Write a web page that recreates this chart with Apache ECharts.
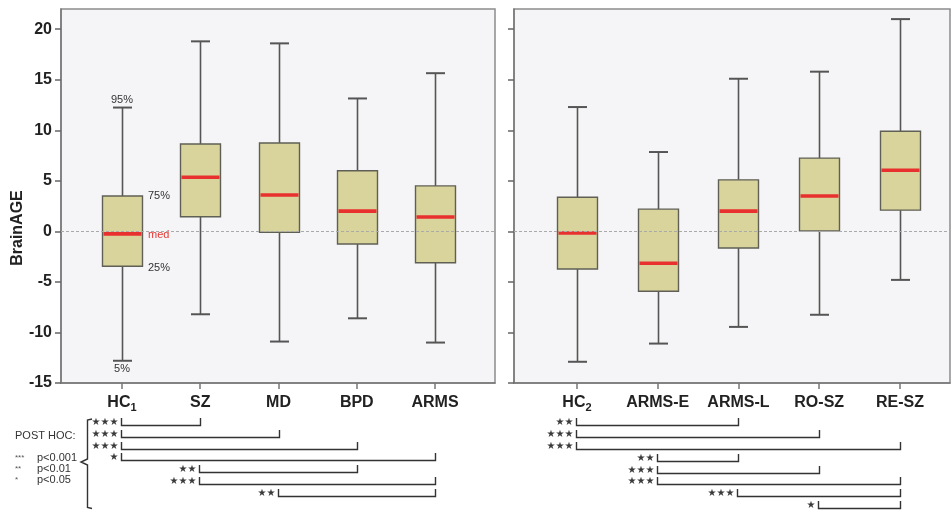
<!DOCTYPE html>
<html>
<head>
<meta charset="utf-8">
<script src="https://cdn.jsdelivr.net/npm/echarts@6/dist/echarts.min.js"></script>
<style>html,body{margin:0;padding:0;background:#fff;}#c{width:951px;height:511px;}</style>
</head>
<body>
<div id="c"></div>
<script>
// ---- data ----
var leftCats = ['HC1', 'SZ', 'MD', 'BPD', 'ARMS'];
var leftP5  = [-12.8, -8.2, -10.9, -8.6, -11.0];
var leftP25 = [-3.45, 1.45, -0.1, -1.25, -3.1];
var leftMed = [-0.25, 5.35, 3.6, 2.0, 1.42];
var leftP75 = [3.5, 8.65, 8.75, 6.0, 4.5];
var leftP95 = [12.25, 18.8, 18.6, 13.15, 15.65];

var rightCats = ['HC2', 'ARMS-E', 'ARMS-L', 'RO-SZ', 'RE-SZ'];
var rightP5  = [-12.9, -11.1, -9.45, -8.25, -4.8];
var rightP25 = [-3.72, -5.92, -1.65, 0.05, 2.1];
var rightMed = [-0.16, -3.15, 2.0, 3.5, 6.05];
var rightP75 = [3.37, 2.2, 5.1, 7.25, 9.9];
var rightP95 = [12.3, 7.85, 15.1, 15.8, 21.0];

var yTicks = [-15, -10, -5, 0, 5, 10, 15, 20];
var pctLabels = ['95%', '75%', 'med', '25%', '5%'];

// post hoc comparisons: [fromIndex, toIndex, row, stars]
var leftPostHoc = [
  [0, 1, 0, 3], [0, 2, 1, 3], [0, 3, 2, 3], [0, 4, 3, 1],
  [1, 3, 4, 2], [1, 4, 5, 3], [2, 4, 6, 2]
];
var rightPostHoc = [
  [0, 2, 0, 2], [0, 3, 1, 3], [0, 4, 2, 3], [1, 2, 3, 2],
  [1, 3, 4, 3], [1, 4, 5, 3], [2, 4, 6, 3], [3, 4, 7, 1]
];
var legendStars = ['***', '**', '*'];
var legendP = ['p<0.001', 'p<0.01', 'p<0.05'];

// ---- chart ----
var FONT = 'Liberation Sans, Arial, sans-serif';
var chart = echarts.init(document.getElementById('c'), null, {renderer: 'canvas'});

function boxData(p5, p25, med, p75, p95) {
  return p5.map(function (v, i) { return [i, p5[i], p25[i], med[i], p75[i], p95[i]]; });
}

function renderBox(params, api) {
  var x = api.value(0);
  var lo = api.coord([x, api.value(1)]);
  var q1 = api.coord([x, api.value(2)]);
  var md = api.coord([x, api.value(3)]);
  var q3 = api.coord([x, api.value(4)]);
  var hi = api.coord([x, api.value(5)]);
  var cx = Math.round(lo[0]) + 0.5;
  var bw = 40, cw = 19;
  var ws = {stroke: '#555', lineWidth: 1.6};
  return {
    type: 'group',
    children: [
      {type: 'line', shape: {x1: cx, y1: hi[1], x2: cx, y2: q3[1]}, style: ws},
      {type: 'line', shape: {x1: cx, y1: q1[1], x2: cx, y2: lo[1]}, style: ws},
      {type: 'line', shape: {x1: cx - cw / 2, y1: hi[1], x2: cx + cw / 2, y2: hi[1]}, style: {stroke: '#555', lineWidth: 2}},
      {type: 'line', shape: {x1: cx - cw / 2, y1: lo[1], x2: cx + cw / 2, y2: lo[1]}, style: {stroke: '#555', lineWidth: 2}},
      {type: 'rect', shape: {x: cx - bw / 2, y: q3[1], width: bw, height: q1[1] - q3[1]},
        style: {fill: '#d8d49b', stroke: '#5f5f55', lineWidth: 1.4}},
      {type: 'line', shape: {x1: cx - bw / 2 + 1, y1: md[1], x2: cx + bw / 2 - 1, y2: md[1]},
        style: {stroke: '#e8302f', lineWidth: 3.6}}
    ]
  };
}

function renderBracket(params, api) {
  var a = api.coord([api.value(0), api.value(2)]);
  var b = api.coord([api.value(1), api.value(2)]);
  var n = api.value(3);
  var stars = '';
  for (var k = 0; k < n; k++) stars += '\u2605';
  var x1 = Math.round(a[0]) - 0.5, x2 = Math.round(b[0]) + 0.5, y = Math.round(a[1]);
  return {
    type: 'group',
    children: [
      {type: 'polyline', shape: {points: [[x1, y - 4], [x1, y + 3.5], [x2, y + 3.5], [x2, y - 4]]},
        style: {stroke: '#333', lineWidth: 1.4, fill: null}},
      {type: 'text', x: x1 - 3, y: y, style: {text: stars, fill: '#3a3a3a', font: '10px DejaVu Sans', align: 'right', verticalAlign: 'middle'}}
    ]
  };
}

function renderPct(params, api) {
  var i = params.dataIndex;
  var p = api.coord([api.value(0), api.value(1)]);
  var txt = pctLabels[i];
  var st = {text: txt, fill: '#333', font: '11px ' + FONT, verticalAlign: 'middle'};
  var x = p[0], y = p[1];
  if (i === 0) { st.align = 'center'; y -= 8; }
  else if (i === 4) { st.align = 'center'; y += 8; }
  else { st.align = 'left'; x += 26; if (txt === 'med') { st.fill = '#e53935'; y += 1; } if (i === 3) y += 1.5; }
  return {type: 'text', x: x, y: y, style: st};
}

var catLabelRich = {
  b: {fontSize: 16, fontWeight: 'bold', color: '#222', fontFamily: FONT, lineHeight: 20},
  s: {fontSize: 11, fontWeight: 'bold', color: '#222', fontFamily: FONT, lineHeight: 20, padding: [9, 0, 0, 0]}
};
function catFormatter(cats) {
  return function (v) {
    var name = cats[Math.round(v)];
    if (name === undefined) return '';
    var m = name.match(/^HC(\d)$/);
    if (m) return '{b|HC}{s|' + m[1] + '}';
    return '{b|' + name + '}';
  };
}

function mainX(gi, min, max, cats) {
  return {
    type: 'value', gridIndex: gi, min: min, max: max,
    splitLine: {show: false},
    axisLine: {show: true, onZero: false, lineStyle: {color: '#777', width: 1.5}},
    axisTick: {show: true, length: 6, inside: false, customValues: [0, 1, 2, 3, 4], lineStyle: {color: '#777', width: 1.5}},
    axisLabel: {show: true, margin: 10, customValues: [0, 1, 2, 3, 4], formatter: catFormatter(cats), rich: catLabelRich}
  };
}
function mainY(gi, showLabels) {
  return {
    type: 'value', gridIndex: gi, min: -15, max: 22,
    splitLine: {show: false},
    axisLine: {show: true, onZero: false, lineStyle: {color: '#777', width: 1.5}},
    axisTick: {show: true, length: 6, customValues: yTicks, lineStyle: {color: '#666', width: 1.5}},
    axisLabel: {show: showLabels, customValues: yTicks, margin: 9, fontSize: 16, fontWeight: 'bold', color: '#222', fontFamily: FONT}
  };
}
function hiddenX(gi, min, max) {
  return {type: 'value', gridIndex: gi, min: min, max: max, show: false, splitLine: {show: false}};
}
function hiddenY(gi, max) {
  return {type: 'value', gridIndex: gi, min: -0.5, max: max - 0.5, inverse: true, show: false, splitLine: {show: false}};
}

var LMIN = -0.779, LMAX = 4.766, RMIN = -0.78, RMAX = 4.62;

var option = {
  backgroundColor: '#fff',
  animation: false,
  grid: [
    {left: 61, top: 9, width: 434, height: 374, show: true, backgroundColor: '#f5f5f7', borderColor: '#8c8c8c', borderWidth: 1.5},
    {left: 514, top: 9, width: 436, height: 374, show: true, backgroundColor: '#f5f5f7', borderColor: '#8c8c8c', borderWidth: 1.5},
    {left: 61, top: 416.5, width: 434, height: 81.9},
    {left: 514, top: 416.2, width: 436, height: 97.9}
  ],
  xAxis: [mainX(0, LMIN, LMAX, leftCats), mainX(1, RMIN, RMAX, rightCats), hiddenX(2, LMIN, LMAX), hiddenX(3, RMIN, RMAX)],
  yAxis: [mainY(0, true), mainY(1, false), hiddenY(2, 7), hiddenY(3, 8)],
  series: [
    {type: 'custom', xAxisIndex: 0, yAxisIndex: 0, z: 1, data: [], renderItem: function () { return null; },
      markLine: {silent: true, symbol: 'none', label: {show: false}, lineStyle: {color: '#aaa', width: 1, type: [3, 2]}, data: [{yAxis: 0}]}},
    {type: 'custom', xAxisIndex: 1, yAxisIndex: 1, z: 1, data: [], renderItem: function () { return null; },
      markLine: {silent: true, symbol: 'none', label: {show: false}, lineStyle: {color: '#aaa', width: 1, type: [3, 2]}, data: [{yAxis: 0}]}},
    {type: 'custom', name: 'left', xAxisIndex: 0, yAxisIndex: 0, z: 3, renderItem: renderBox,
      encode: {x: 0, y: [1, 2, 3, 4, 5]}, data: boxData(leftP5, leftP25, leftMed, leftP75, leftP95)},
    {type: 'custom', name: 'right', xAxisIndex: 1, yAxisIndex: 1, z: 3, renderItem: renderBox,
      encode: {x: 0, y: [1, 2, 3, 4, 5]}, data: boxData(rightP5, rightP25, rightMed, rightP75, rightP95)},
    {type: 'custom', xAxisIndex: 0, yAxisIndex: 0, z: 4, renderItem: renderPct,
      encode: {x: 0, y: 1},
      data: [[0, leftP95[0]], [0, leftP75[0]], [0, leftMed[0]], [0, leftP25[0]], [0, leftP5[0]]]},
    {type: 'custom', xAxisIndex: 2, yAxisIndex: 2, renderItem: renderBracket, encode: {x: [0, 1], y: 2}, data: leftPostHoc},
    {type: 'custom', xAxisIndex: 3, yAxisIndex: 3, renderItem: renderBracket, encode: {x: [0, 1], y: 2}, data: rightPostHoc}
  ],
  graphic: [
    {type: 'text', x: 18, y: 228, rotation: Math.PI / 2,
      style: {text: 'BrainAGE', font: 'bold 16px ' + FONT, fill: '#222', align: 'center', verticalAlign: 'middle'}},
    {type: 'text', x: 15, y: 436, style: {text: 'POST HOC:', font: '11px ' + FONT, fill: '#333', verticalAlign: 'middle'}},
    {type: 'text', x: 15, y: 457.5, style: {text: legendStars[0], font: '8px ' + FONT, fill: '#555', verticalAlign: 'middle'}},
    {type: 'text', x: 15, y: 469, style: {text: legendStars[1], font: '8px ' + FONT, fill: '#555', verticalAlign: 'middle'}},
    {type: 'text', x: 15, y: 479.5, style: {text: legendStars[2], font: '8px ' + FONT, fill: '#555', verticalAlign: 'middle'}},
    {type: 'text', x: 37, y: 457.5, style: {text: legendP[0], font: '11px ' + FONT, fill: '#333', verticalAlign: 'middle'}},
    {type: 'text', x: 37, y: 469, style: {text: legendP[1], font: '11px ' + FONT, fill: '#333', verticalAlign: 'middle'}},
    {type: 'text', x: 37, y: 479.5, style: {text: legendP[2], font: '11px ' + FONT, fill: '#333', verticalAlign: 'middle'}},
    {type: 'polyline', shape: {points: [[92, 419], [87.5, 420], [87.5, 459], [81, 462], [87.5, 465], [87.5, 507.5], [92, 508.5]]},
      style: {stroke: '#333', lineWidth: 1.4, fill: null}}
  ]
};
chart.setOption(option);
</script>
</body>
</html>
